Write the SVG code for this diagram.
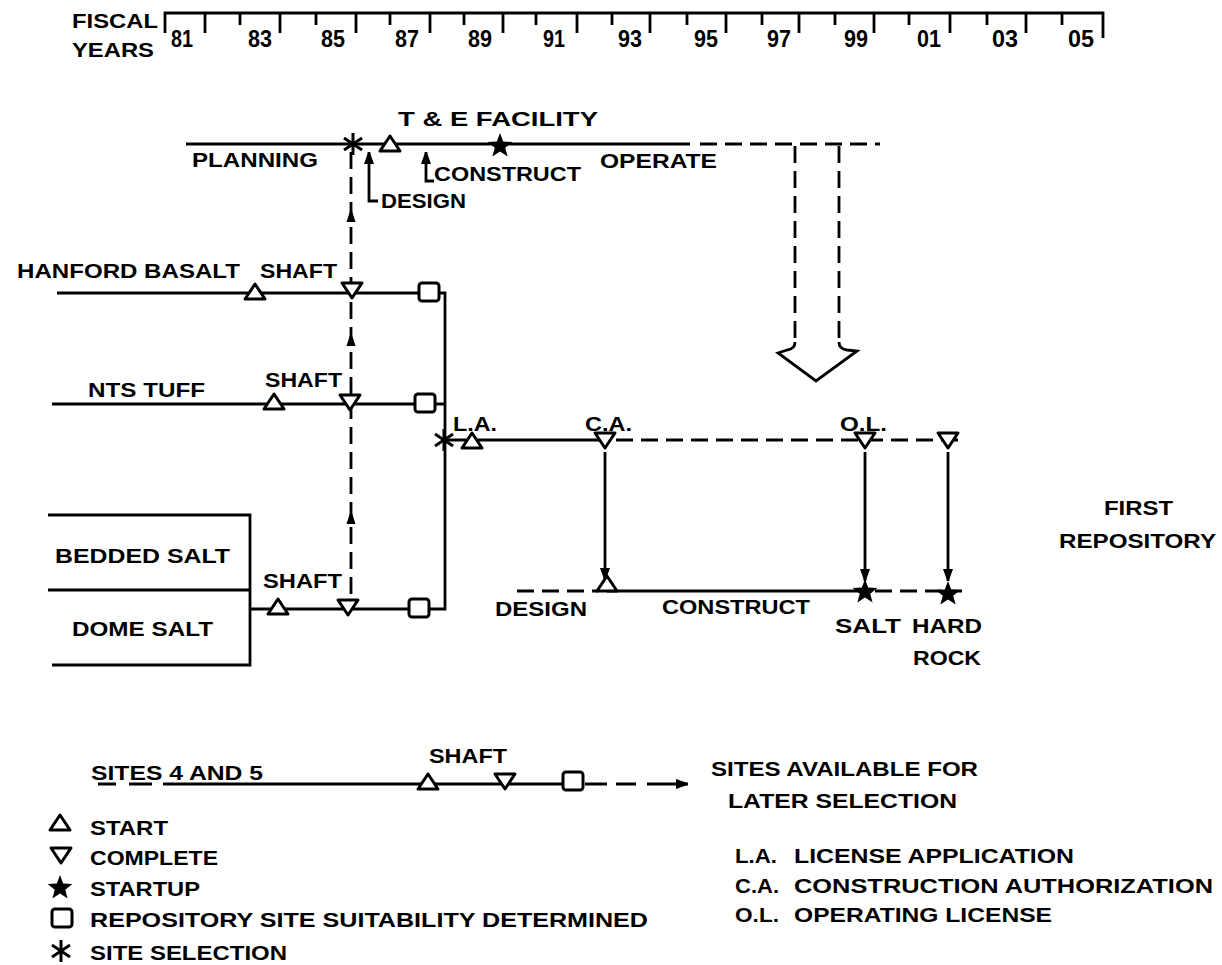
<svg xmlns="http://www.w3.org/2000/svg" width="1222" height="965" viewBox="0 0 1222 965">
<style>
.ln{stroke:#000;stroke-width:2.8;fill:none}
.dl{stroke:#000;stroke-width:2.8;fill:none;stroke-dasharray:17 8}
.sym{fill:#fff;stroke:#000;stroke-width:3;stroke-linejoin:round}
.t{font-family:"Liberation Sans",Arial,sans-serif;font-weight:bold;font-size:21px;fill:#000}
.n{font-family:"Liberation Sans",Arial,sans-serif;font-weight:bold;font-size:23px;fill:#000;text-anchor:middle}
</style>
<defs>
<path id="triU" d="M-10,7 L0,-8 L10,7 Z"/>
<path id="triD" d="M-10,-7 L10,-7 L0,8 Z"/>
<path id="star" d="M0,-13 L3.2,-4.4 L12.4,-4 L5.2,1.7 L7.6,10.5 L0,5.4 L-7.6,10.5 L-5.2,1.7 L-12.4,-4 L-3.2,-4.4 Z"/>
<rect id="sq" x="-10" y="-9" width="20" height="18" rx="3"/>
<g id="ast" stroke="#000" stroke-width="3"><line x1="0" y1="-11" x2="0" y2="11"/><line x1="-9" y1="-6" x2="9" y2="6"/><line x1="-9" y1="6" x2="9" y2="-6"/></g>
<path id="aUp" d="M0,-10 L4.5,4 L-4.5,4 Z"/>
<marker id="ah" markerUnits="userSpaceOnUse" markerWidth="12" markerHeight="14" refX="12" refY="5" orient="auto"><path d="M0,0 L14,5 L0,10 Z" fill="#000"/></marker>
</defs>

<g id="timeline">
<path class="ln" d="M165,33 V13 H1103 V38"/>
<path class="ln" d="M205,13 V33 M280,13 V33 M356,13 V33 M430,13 V33 M503,13 V33 M577,13 V33 M650,13 V33 M726,13 V33 M799,13 V33 M874,13 V33 M950,13 V33 M1026,13 V33 M240,13 V25 M316,13 V25 M390,13 V25 M464,13 V25 M536,13 V25 M612,13 V25 M687,13 V25 M762,13 V25 M835,13 V25 M909,13 V25 M987,13 V25 M1062,13 V25"/>
<text class="t" x="72" y="28" textLength="86" lengthAdjust="spacingAndGlyphs">FISCAL</text>
<text class="t" x="72" y="57" textLength="82" lengthAdjust="spacingAndGlyphs">YEARS</text>
<g class="n">
<text x="182" y="47" textLength="22" lengthAdjust="spacingAndGlyphs">81</text><text x="260" y="47" textLength="24" lengthAdjust="spacingAndGlyphs">83</text><text x="333" y="47" textLength="24" lengthAdjust="spacingAndGlyphs">85</text><text x="407" y="47" textLength="24" lengthAdjust="spacingAndGlyphs">87</text><text x="480" y="47" textLength="24" lengthAdjust="spacingAndGlyphs">89</text><text x="554" y="47" textLength="22" lengthAdjust="spacingAndGlyphs">91</text><text x="630" y="47" textLength="24" lengthAdjust="spacingAndGlyphs">93</text><text x="706" y="47" textLength="24" lengthAdjust="spacingAndGlyphs">95</text><text x="779" y="47" textLength="24" lengthAdjust="spacingAndGlyphs">97</text><text x="856" y="47" textLength="24" lengthAdjust="spacingAndGlyphs">99</text><text x="929" y="47" textLength="24" lengthAdjust="spacingAndGlyphs">01</text><text x="1005" y="47" textLength="26" lengthAdjust="spacingAndGlyphs">03</text><text x="1081" y="47" textLength="26" lengthAdjust="spacingAndGlyphs">05</text>
</g>
</g>

<g id="connectors">
<path class="ln" d="M186,144 H690"/>
<path class="dl" d="M700,144 H880"/>
<path class="ln" d="M378,201 H369 V152" marker-end="url(#ah)"/>
<path class="ln" d="M434,181 H426 V152" marker-end="url(#ah)"/>
<path class="dl" d="M795,146 V342 M839,146 V342"/>
<path class="ln" d="M795,342 Q795,349 787,350 L778,353 L816,381 L857,351 L847,350 Q839,349 839,342"/>
<path class="dl" d="M351,152 V609"/>
<use href="#aUp" x="351" y="218"/><use href="#aUp" x="351" y="342"/><use href="#aUp" x="351" y="520"/>
<path class="ln" d="M57,293 H445 V609 H250"/>
<path class="ln" d="M52,404 H445"/>
<path class="ln" d="M48,515 H250 V665 H52 M48,590 H250"/>
<path class="ln" d="M445,440 H606"/>
<path class="dl" d="M616,440 H962"/>
<path class="dl" d="M517,591 H598"/>
<path class="ln" d="M607,591 H865"/>
<path class="dl" d="M875,591 H962"/>
<path class="ln" d="M605,452 V580" marker-end="url(#ah)"/>
<path class="ln" d="M865,452 V581" marker-end="url(#ah)"/>
<path class="ln" d="M948,452 V581" marker-end="url(#ah)"/>
<path class="ln" d="M98,784 H116 M129,784 H152 M163,784 H573 M585,784 H607 M616,784 H636"/>
<path class="ln" d="M647,784 H688" marker-end="url(#ah)"/>
</g>

<g id="te-facility">
<use href="#ast" x="353" y="144"/>
<use href="#triU" class="sym" x="390" y="144"/>
<use href="#star" x="500" y="146"/>
<text class="t" x="398" y="126" textLength="200" lengthAdjust="spacingAndGlyphs">T &amp; E FACILITY</text>
<text class="t" x="192" y="167" textLength="126" lengthAdjust="spacingAndGlyphs">PLANNING</text>
<text class="t" x="381" y="208" textLength="85" lengthAdjust="spacingAndGlyphs">DESIGN</text>
<text class="t" x="434" y="181" textLength="147" lengthAdjust="spacingAndGlyphs">CONSTRUCT</text>
<text class="t" x="600" y="168" textLength="117" lengthAdjust="spacingAndGlyphs">OPERATE</text>
</g>

<g id="hanford">
<text class="t" x="17" y="278" textLength="223" lengthAdjust="spacingAndGlyphs">HANFORD BASALT</text>
<text class="t" x="260" y="278" textLength="77" lengthAdjust="spacingAndGlyphs">SHAFT</text>
<use href="#triU" class="sym" x="255" y="292"/>
<use href="#triD" class="sym" x="352" y="290"/>
<use href="#sq" class="sym" x="429" y="292"/>
</g>

<g id="nts">
<text class="t" x="88" y="397" textLength="117" lengthAdjust="spacingAndGlyphs">NTS TUFF</text>
<text class="t" x="265" y="387" textLength="77" lengthAdjust="spacingAndGlyphs">SHAFT</text>
<use href="#triU" class="sym" x="274" y="402"/>
<use href="#triD" class="sym" x="350" y="402"/>
<use href="#sq" class="sym" x="425" y="403"/>
</g>

<g id="salt">
<text class="t" x="55" y="563" textLength="175" lengthAdjust="spacingAndGlyphs">BEDDED SALT</text>
<text class="t" x="72" y="636" textLength="141" lengthAdjust="spacingAndGlyphs">DOME SALT</text>
<text class="t" x="263" y="588" textLength="79" lengthAdjust="spacingAndGlyphs">SHAFT</text>
<use href="#triU" class="sym" x="278" y="607"/>
<use href="#triD" class="sym" x="348" y="607"/>
<use href="#sq" class="sym" x="419" y="608"/>
</g>

<g id="repository">
<use href="#ast" x="444" y="440"/>
<use href="#triU" class="sym" x="472" y="441"/>
<text class="t" x="453" y="431" textLength="44" lengthAdjust="spacingAndGlyphs">L.A.</text>
<use href="#triD" class="sym" x="605" y="440"/>
<text class="t" x="585" y="431" textLength="47" lengthAdjust="spacingAndGlyphs">C.A.</text>
<use href="#triD" class="sym" x="865" y="440"/>
<text class="t" x="840" y="431" textLength="47" lengthAdjust="spacingAndGlyphs">O.L.</text>
<use href="#triD" class="sym" x="948" y="440"/>
<use href="#triU" class="sym" x="607" y="584"/>
<use href="#star" x="865" y="592"/>
<use href="#star" x="948" y="594"/>
<text class="t" x="495" y="616" textLength="92" lengthAdjust="spacingAndGlyphs">DESIGN</text>
<text class="t" x="662" y="614" textLength="148" lengthAdjust="spacingAndGlyphs">CONSTRUCT</text>
<text class="t" x="835" y="633" textLength="66" lengthAdjust="spacingAndGlyphs">SALT</text>
<text class="t" x="912" y="633" textLength="70" lengthAdjust="spacingAndGlyphs">HARD</text>
<text class="t" x="913" y="665" textLength="68" lengthAdjust="spacingAndGlyphs">ROCK</text>
<text class="t" x="1104" y="515" textLength="69" lengthAdjust="spacingAndGlyphs">FIRST</text>
<text class="t" x="1059" y="548" textLength="157" lengthAdjust="spacingAndGlyphs">REPOSITORY</text>
</g>

<g id="sites45">
<text class="t" x="91" y="780" textLength="172" lengthAdjust="spacingAndGlyphs">SITES 4 AND 5</text>
<text class="t" x="429" y="763" textLength="78" lengthAdjust="spacingAndGlyphs">SHAFT</text>
<use href="#triU" class="sym" x="428" y="782"/>
<use href="#triD" class="sym" x="505" y="781"/>
<use href="#sq" class="sym" x="573" y="781"/>
<text class="t" x="711" y="776" textLength="267" lengthAdjust="spacingAndGlyphs">SITES AVAILABLE FOR</text>
<text class="t" x="728" y="808" textLength="229" lengthAdjust="spacingAndGlyphs">LATER SELECTION</text>
</g>

<g id="legend">
<use href="#triU" class="sym" x="60" y="823"/>
<text class="t" x="90" y="835" textLength="78" lengthAdjust="spacingAndGlyphs">START</text>
<use href="#triD" class="sym" x="61" y="855"/>
<text class="t" x="90" y="865" textLength="128" lengthAdjust="spacingAndGlyphs">COMPLETE</text>
<use href="#star" x="60" y="888"/>
<text class="t" x="90" y="896" textLength="110" lengthAdjust="spacingAndGlyphs">STARTUP</text>
<use href="#sq" class="sym" x="62" y="918"/>
<text class="t" x="90" y="927" textLength="558" lengthAdjust="spacingAndGlyphs">REPOSITORY SITE SUITABILITY DETERMINED</text>
<use href="#ast" x="61" y="951"/>
<text class="t" x="90" y="960" textLength="197" lengthAdjust="spacingAndGlyphs">SITE SELECTION</text>
<text class="t" x="735" y="863" textLength="42" lengthAdjust="spacingAndGlyphs">L.A.</text>
<text class="t" x="794" y="863" textLength="280" lengthAdjust="spacingAndGlyphs">LICENSE APPLICATION</text>
<text class="t" x="735" y="893" textLength="44" lengthAdjust="spacingAndGlyphs">C.A.</text>
<text class="t" x="794" y="893" textLength="419" lengthAdjust="spacingAndGlyphs">CONSTRUCTION AUTHORIZATION</text>
<text class="t" x="735" y="922" textLength="44" lengthAdjust="spacingAndGlyphs">O.L.</text>
<text class="t" x="794" y="922" textLength="258" lengthAdjust="spacingAndGlyphs">OPERATING LICENSE</text>
</g>
</svg>
